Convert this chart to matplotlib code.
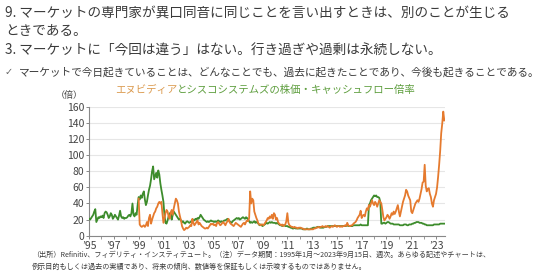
import numpy as np
import matplotlib
matplotlib.use("Agg")
import matplotlib.pyplot as plt
from matplotlib.ticker import MultipleLocator

plt.rcParams['font.family'] = ['Noto Sans CJK JP', 'DejaVu Sans']

# Cisco Systems price/cash-flow multiple, monthly from Jan 1995
csco_start = 1995.0
csco_vals = [
    21, 20, 22, 24, 26, 30, 33, 17, 20, 23, 22, 24,   # 1995
    23, 25, 22, 28, 30, 29, 26, 22, 24, 28, 26, 21,   # 1996
    23, 26, 24, 22, 20, 25, 31, 24, 22, 23, 21, 22,   # 1997
    22, 23, 25, 26, 24, 28, 40, 26, 24, 28, 26, 38,   # 1998
    48, 45, 50, 47, 52, 55, 45, 38, 42, 50, 57, 62,   # 1999
    70, 80, 86, 70, 74, 78, 72, 81, 76, 65, 57, 50,   # 2000
    42, 25, 16, 15, 19, 24, 27, 29, 20, 26, 30, 28,   # 2001
    26, 24, 22, 20, 21, 19, 17, 18, 16, 15, 17, 18,   # 2002
    17, 16, 17, 18, 19, 20, 19, 21, 20, 22, 21, 23,   # 2003
    26, 24, 22, 20, 19, 18, 17, 18, 17, 18, 19, 18,   # 2004
    18, 17, 18, 17, 18, 19, 18, 17, 18, 17, 18, 19,   # 2005
    19, 20, 21, 20, 18, 17, 16, 18, 19, 20, 21, 22,   # 2006
    21, 22, 20, 21, 22, 23, 22, 21, 23, 22, 20, 18,   # 2007
    16, 17, 16, 17, 18, 16, 17, 16, 15, 13, 14, 13,   # 2008
    12, 13, 14, 15, 16, 15, 16, 17, 16, 17, 16, 16,   # 2009
    16, 15, 16, 15, 14, 13, 13, 12, 13, 13, 12, 12,   # 2010
    12, 11, 11, 10, 10, 9, 9, 10, 9, 9, 9, 9,         # 2011
    9, 9, 9, 8, 8, 8, 8, 9, 8, 8, 8, 9,               # 2012
    9, 10, 10, 10, 10, 11, 11, 11, 10, 10, 10, 10,    # 2013
    11, 11, 11, 12, 12, 12, 12, 12, 12, 12, 12, 12,   # 2014
    12, 12, 12, 12, 12, 12, 12, 12, 12, 12, 13, 12,   # 2015
    12, 12, 12, 12, 13, 13, 13, 13, 13, 13, 13, 14,   # 2016
    13, 13, 13, 13, 13, 13, 13, 38, 40, 44, 46, 48,   # 2017
    50, 49, 50, 48, 48, 47, 42, 15, 15, 16, 16, 15,   # 2018
    16, 17, 17, 16, 15, 15, 15, 14, 14, 14, 14, 14,   # 2019
    14, 13, 13, 13, 13, 14, 14, 14, 13, 13, 14, 14,   # 2020
    14, 15, 15, 16, 16, 17, 17, 17, 16, 16, 16, 15,   # 2021
    15, 14, 14, 13, 13, 13, 13, 13, 13, 13, 14, 14,   # 2022
    14, 14, 14, 14, 15, 15, 15, 15, 15,               # 2023
]

# NVIDIA price/cash-flow multiple, monthly from Jan 1999
nvda_start = 1999.0
nvda_vals = [
    46, 14, 12, 11, 12, 13, 11, 13, 17, 12, 22, 26,   # 1999
    15, 20, 24, 28, 30, 34, 36, 40, 42, 40, 42, 28,   # 2000
    16, 22, 28, 32, 30, 24, 21, 28, 32, 26, 34, 40,   # 2001
    46, 44, 40, 30, 24, 19, 12, 9, 7, 8, 10, 9,       # 2002
    10, 11, 13, 12, 21, 16, 13, 15, 17, 19, 14, 16,   # 2003
    14, 12, 11, 10, 9, 9, 10, 9, 11, 13, 15, 14,      # 2004
    15, 13, 14, 12, 16, 17, 15, 13, 14, 16, 17, 15,   # 2005
    13, 16, 18, 21, 17, 15, 14, 13, 12, 14, 16, 15,   # 2006
    14, 13, 12, 11, 13, 15, 16, 14, 17, 19, 18, 22,   # 2007
    55, 40, 46, 44, 30, 26, 22, 19, 15, 14, 13, 14,   # 2008
    14, 13, 15, 17, 19, 22, 21, 24, 22, 26, 21, 28,   # 2009
    26, 20, 22, 17, 15, 14, 13, 14, 12, 13, 14, 18,   # 2010
    28, 16, 13, 12, 11, 11, 10, 11, 10, 10, 9, 10,    # 2011
    10, 10, 9, 9, 8, 8, 8, 8, 8, 8, 8, 8,             # 2012
    8, 8, 9, 9, 10, 10, 11, 10, 11, 11, 12, 11,       # 2013
    11, 12, 11, 12, 11, 10, 11, 12, 11, 12, 13, 12,   # 2014
    11, 12, 12, 11, 12, 11, 12, 12, 13, 12, 16, 13,   # 2015
    12, 12, 13, 13, 15, 16, 17, 19, 22, 24, 26, 31,   # 2016
    22, 25, 26, 24, 30, 34, 32, 38, 36, 40, 44, 40,   # 2017
    38, 42, 40, 36, 40, 44, 42, 40, 32, 23, 19, 21,   # 2018
    23, 26, 24, 21, 24, 28, 26, 30, 27, 30, 34, 38,   # 2019
    30, 24, 30, 36, 42, 46, 50, 57, 55, 50, 47, 44,   # 2020
    30, 28, 32, 36, 40, 42, 44, 42, 46, 52, 58, 66,   # 2021
    67, 88, 62, 55, 58, 59, 52, 48, 40, 36, 44, 48,   # 2022
    52, 60, 73, 88, 105, 127, 139, 154, 143,          # 2023
]

year_ticks = list(range(1995, 2024, 2))
year_labels = ["\u2019%02d" % (y % 100) for y in year_ticks]

c_orange = "#E57A2E"
c_green = "#3D8C2C"
c_text = "#3a3a3a"

fig = plt.figure(figsize=(5.4, 2.78), dpi=100)
ax = fig.add_axes([0.165, 0.152, 0.659, 0.464])

csco_x = csco_start + np.arange(len(csco_vals)) / 12.0
nvda_x = nvda_start + np.arange(len(nvda_vals)) / 12.0
ax.plot(csco_x, csco_vals, color=c_green, lw=1.3, zorder=3)
ax.plot(nvda_x, nvda_vals, color=c_orange, lw=1.3, zorder=4)

ax.set_xlim(1995, 2023.72)
ax.set_ylim(0, 160)
ax.yaxis.set_major_locator(MultipleLocator(20))
ax.set_xticks(year_ticks)
ax.set_xticklabels(year_labels)
ax.xaxis.set_minor_locator(MultipleLocator(1))
ax.grid(axis='y', color='#e6e6e6', lw=0.8, zorder=0)
for s in ['top', 'right']:
    ax.spines[s].set_visible(False)
for s in ['left', 'bottom']:
    ax.spines[s].set_color('#888888')
    ax.spines[s].set_linewidth(0.8)
ax.tick_params(axis='both', labelsize=7.5, colors='#888888', labelcolor='#444444', length=2.5, width=0.7, pad=1.0)
ax.tick_params(axis='x', which='minor', length=2, width=0.6, colors='#888888')

# header texts
fig.text(0.009, 0.953, "9. マーケットの専門家が異口同音に同じことを言い出すときは、別のことが生じる",
         fontsize=9.8, color=c_text, va='center', ha='left')
fig.text(0.009, 0.888, "ときである。", fontsize=9.8, color=c_text, va='center', ha='left')
fig.text(0.009, 0.818, "3. マーケットに「今回は違う」はない。行き過ぎや過剰は永続しない。",
         fontsize=9.8, color=c_text, va='center', ha='left')
fig.text(0.009, 0.741, "\u2713", fontsize=7, color='#666666', va='center', ha='left',
         family=['DejaVu Sans'])
fig.text(0.035, 0.741, "マーケットで今日起きていることは、どんなことでも、過去に起きたことであり、今後も起きることである。",
         fontsize=7.7, color=c_text, va='center', ha='left')

# chart title (two colours)
t1 = fig.text(0.213, 0.676, "エヌビディア", fontsize=7.5, color="#DB9A4E", va='center', ha='left')
fig.canvas.draw()
bb = t1.get_window_extent()
x2 = fig.transFigure.inverted().transform((bb.x1, bb.y0))[0]
fig.text(x2, 0.676, "とシスコシステムズの株価・キャッシュフロー倍率", fontsize=7.5, color="#5E9E3E",
         va='center', ha='left')
fig.text(0.128, 0.655, "（倍）", fontsize=6.5, color='#444444', va='center', ha='center')

# footnotes
fig.text(0.059, 0.084, "（出所）Refinitiv、フィデリティ・インスティテュート。（注）データ期間：1995年1月～2023年9月15日、週次。あらゆる記述やチャートは、",
         fontsize=5.1, color=c_text, va='center', ha='left')
fig.text(0.059, 0.041, "例示目的もしくは過去の実績であり、将来の傾向、数値等を保証もしくは示唆するものではありません。",
         fontsize=5.1, color=c_text, va='center', ha='left')

fig.savefig("out.png", dpi=100)
